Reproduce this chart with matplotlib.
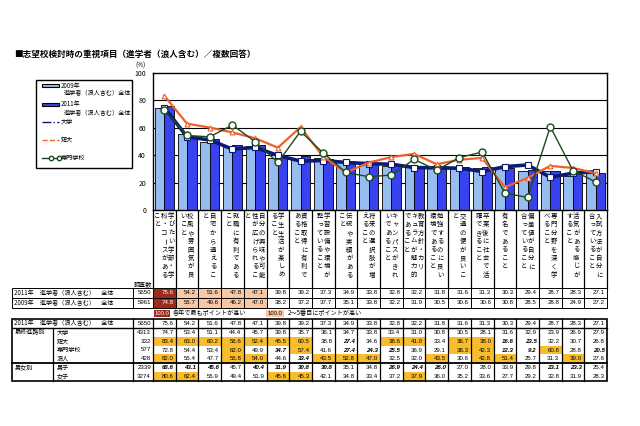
import matplotlib
matplotlib.use('Agg')
import matplotlib.pyplot as plt
from matplotlib.patches import Rectangle
from matplotlib.lines import Line2D
from matplotlib.transforms import blended_transform_factory
import numpy as np

plt.rcParams['font.family'] = ['Noto Sans CJK JP', 'DejaVu Sans']

# ---------------- data ----------------
title = "■志望校検討時の重視項目（進学者（浪人含む）／複数回答）"
categories = [
    "学びたい学部・学科・コースがあること",
    "校風や雰囲気が良いこと",
    "自宅から通えること",
    "就職に有利であること",
    "自分の興味や可能性が広げられること",
    "学生生活が楽しめること",
    "資格取得に有利であること",
    "学習設備や環境が整っていること",
    "伝統や実績があること",
    "将来の選択肢が増えること",
    "キャンパスがきれいであること",
    "教育方針・カリキュラムが魅力的であること",
    "勉強するのに良い環境であること",
    "交通の便が良いこと",
    "卒業後に社会で活躍できること",
    "有名であること",
    "偏差値が自分に合っていること",
    "専門分野を深く学べること",
    "活気がある感じがすること",
    "入試方法が自分に合っていること",
]
total_2011 = [75.6, 54.2, 51.6, 47.8, 47.1, 39.8, 39.2, 37.3, 34.9, 33.8,
              32.8, 32.2, 31.8, 31.6, 31.3, 30.3, 29.4, 28.7, 28.3, 27.1]
total_2009 = [74.8, 55.7, 49.6, 46.2, 47.0, 38.2, 37.2, 37.7, 35.1, 33.8,
              32.2, 31.9, 30.5, 30.6, 30.6, 30.8, 28.5, 28.8, 24.9, 27.2]
univ = [74.7, 53.4, 51.1, 44.4, 45.7, 39.8, 35.7, 36.1, 34.7, 33.8,
        33.4, 31.0, 30.8, 30.5, 28.1, 31.6, 32.9, 23.9, 26.9, 27.9]
junior = [83.4, 63.0, 60.2, 56.6, 52.4, 45.5, 60.5, 38.8, 27.4, 34.6,
          38.6, 41.0, 33.4, 36.7, 38.0, 16.6, 23.5, 32.2, 30.7, 26.8]
vocational = [72.8, 54.4, 53.4, 62.0, 49.9, 34.7, 57.4, 41.6, 27.4, 24.3,
              25.5, 36.9, 29.1, 38.3, 42.3, 12.3, 9.2, 60.8, 28.8, 20.5]
ronin = [82.0, 55.4, 47.7, 55.8, 54.0, 44.6, 33.4, 43.5, 52.8, 47.0,
         32.5, 32.0, 43.5, 30.6, 42.8, 51.4, 25.7, 31.3, 39.0, 27.6]
male = [68.6, 43.1, 45.6, 45.7, 40.4, 31.9, 30.8, 30.8, 35.1, 34.8,
        26.9, 24.4, 26.0, 27.0, 28.0, 33.9, 29.8, 23.1, 23.3, 25.4]
female = [80.6, 62.4, 55.9, 49.4, 51.9, 45.6, 45.3, 42.1, 34.8, 33.4,
          37.2, 37.9, 36.0, 35.2, 33.6, 27.7, 29.2, 32.8, 31.9, 28.3]
n_2011, n_2009 = 5650, 5961
group_labels = ["大学", "短大", "専門学校", "浪人"]
group_n = [4313, 332, 577, 428]
sex_labels = ["男子", "女子"]
sex_n = [2339, 3274]

# ---------------- styles ----------------
C_LIGHT = '#95bdf0'
C_DARK = '#3842f0'
C_UNIV = '#0c1a74'
C_JC = '#f0602a'
C_VOC = '#1d4a1d'
C_TOP1 = '#9e2a1c'
C_TOP5 = '#f8c8a6'
C_GOLD = '#f9bd2c'
NUMFONT = ['Liberation Sans', 'DejaVu Sans']

W, H = 640, 426
fig = plt.figure(figsize=(W / 100, H / 100), dpi=100)
ax = fig.add_axes([153 / W, 1 - 210 / H, 454 / W, 137 / H])
ov = fig.add_axes([0, 0, 1, 1], zorder=3)
ov.set_autoscale_on(False)
ov.set_xlim(0, W)
ov.set_ylim(H, 0)
ov.axis('off')
ov.patch.set_visible(False)

n = len(categories)
x = np.arange(n)

# ---------------- chart ----------------
bw = 0.42
ax.bar(x - bw / 2, total_2009, bw, color=C_LIGHT, edgecolor='black', linewidth=0.6, zorder=2)
ax.bar(x + bw / 2, total_2011, bw, color=C_DARK, edgecolor='black', linewidth=0.6, zorder=2)
for g in (20, 40, 60, 80):
    ax.axhline(g, color='black', lw=0.8, zorder=1)
ax.plot(x, univ, color=C_UNIV, lw=2.6, marker='s', ms=4, mfc='white', mec=C_UNIV, mew=0.8, zorder=4)
ax.plot(x, junior, color=C_JC, lw=1.6, marker='^', ms=3.5, mfc='white', mec=C_JC, mew=0.8, zorder=5)
ax.plot(x, vocational, color=C_VOC, lw=1.0, marker='o', ms=5, mfc='white', mec=C_VOC, mew=1.0, zorder=6)
ax.set_xlim(-0.5, n - 0.5)
ax.set_ylim(0, 100)
ax.set_yticks(range(0, 101, 20))
ax.set_xticks([])
ax.tick_params(axis='y', length=0, labelsize=5, pad=5)
for s in ax.spines.values():
    s.set_linewidth(1.0)

trans = blended_transform_factory(ax.transData, ov.transData)

# title, unit
ov.text(14, 54, title, fontsize=6.2, fontweight='bold', va='center', ha='left')
ov.text(141, 66, "(%)", fontsize=4.5, ha='center', va='center')

# ---------------- legend ----------------
ov.add_patch(Rectangle((36, 80), 96, 88, fill=False, ec='black', lw=1.0))
ov.add_patch(Rectangle((42, 83.5), 17, 3.5, fc=C_LIGHT, ec='black', lw=0.8))
ov.text(61, 85.5, "2009年", fontsize=4.4, va='center')
ov.text(64, 93.5, "進学者（浪人含む）全体", fontsize=4.4, va='center')
ov.add_patch(Rectangle((42, 102.5), 17, 3.5, fc=C_DARK, ec='black', lw=0.8))
ov.text(61, 104.5, "2011年", fontsize=4.4, va='center')
ov.text(64, 113, "進学者（浪人含む）全体", fontsize=4.4, va='center')
ov.add_line(Line2D([42, 59], [122, 122], color=C_UNIV, lw=1.0, ls='-.'))
ov.text(61, 122, "大学", fontsize=4.4, va='center')
ov.add_line(Line2D([42, 59], [140, 140], color=C_JC, lw=1.0, ls='--'))
ov.text(61, 140, "短大", fontsize=4.4, va='center')
ov.add_line(Line2D([42, 59], [158, 158], color=C_VOC, lw=1.0, marker='o', ms=3.2,
                   mfc='white', mec=C_VOC, markevery=[1], ))
ov.add_line(Line2D([50.5], [158], color=C_VOC, marker='o', ms=3.2, mfc='white', mec=C_VOC, lw=0))
ov.text(61, 158, "専門学校", fontsize=4.4, va='center')

# ---------------- vertical category labels ----------------
small = set('ゃゅょっャュョッァィゥェォぁぃぅぇぉー、。')


def split_cols(s, m=8):
    cols = []
    while s:
        k = min(m, len(s))
        while k < len(s) and s[k] in small and k > 1:
            k -= 1
        cols.append(s[:k])
        s = s[k:]
    return cols


colw = 6.8 / 22.7
for i, lab in enumerate(categories):
    cols = split_cols(lab)
    nc = len(cols)
    for j, col in enumerate(cols):
        xo = i + ((nc - 1) / 2 - j) * colw
        for k, ch in enumerate(col):
            rot = -90 if ch == 'ー' else 0
            ov.text(xo, 216 + k * 8.4, ch, fontsize=4.6, ha='center', va='center',
                    rotation=rot, transform=trans)
for b in np.arange(n + 1) - 0.5:
    ov.add_line(Line2D([b, b], [210, 288], color='black', lw=0.9, transform=trans))

# ---------------- top table ----------------
ov.text(143, 284, "調査数", fontsize=4.4, ha='center', va='center')


def rank_colors(vals):
    order = np.argsort(vals)[::-1]
    cols = [None] * len(vals)
    cols[order[0]] = C_TOP1
    for r in order[1:5]:
        cols[r] = C_TOP5
    return cols


top_rows = [("2011年　進学者（浪人含む）　全体", n_2011, total_2011, 288, 298),
            ("2009年　進学者（浪人含む）　全体", n_2009, total_2009, 298, 308)]
for lab, nn, vals, y0, y1 in top_rows:
    yc = (y0 + y1) / 2
    ov.add_patch(Rectangle((12, y0), 121, y1 - y0, fill=False, ec='black', lw=0.7))
    ov.add_patch(Rectangle((133, y0), 20, y1 - y0, fill=False, ec='black', lw=0.7))
    ov.text(14, yc, lab, fontsize=4.4, va='center')
    ov.text(151, yc, f"{nn}", fontsize=4.4, va='center', ha='right', family=NUMFONT)
    rc = rank_colors(vals)
    for i, v in enumerate(vals):
        ov.add_patch(Rectangle((i - 0.5, y0), 1, y1 - y0, fc=rc[i] if rc[i] else 'white',
                               ec='black', lw=0.7, transform=trans))
        ov.text(i + 0.4, yc, f"{v:.1f}", fontsize=4.4, va='center', ha='right',
                color='white' if rc[i] == C_TOP1 else 'black', family=NUMFONT, transform=trans)

# key row
ov.add_patch(Rectangle((154, 309.5), 16, 7.5, fc=C_TOP1, ec='none'))
ov.text(162, 313.2, "100.0", fontsize=4.2, color='white', ha='center', va='center', family=NUMFONT)
ov.text(173, 313.2, "各年で最もポイントが高い", fontsize=4.4, va='center')
ov.add_patch(Rectangle((266, 309.5), 18, 7.5, fc=C_TOP5, ec='none'))
ov.text(275, 313.2, "100.0", fontsize=4.2, ha='center', va='center', family=NUMFONT)
ov.text(288, 313.2, "2～5番目にポイントが高い", fontsize=4.4, va='center')

# ---------------- lower table ----------------
y_top, y_r0 = 319, 328
grp_edges = [328, 336.75, 345.5, 354.25, 363]
sex_edges = [363, 372, 381]


def draw_row(vals, nn, y0, y1, base=None):
    yc = (y0 + y1) / 2
    ov.text(151, yc, f"{nn}", fontsize=4.4, va='center', ha='right', family=NUMFONT)
    for i, v in enumerate(vals):
        style, weight, fc = 'normal', 'normal', None
        if base is not None:
            if v - base[i] >= 5:
                fc = C_GOLD
            elif base[i] - v >= 5:
                style, weight = 'italic', 'bold'
        if fc:
            ov.add_patch(Rectangle((i - 0.5, y0), 1, y1 - y0, fc=fc, ec='none', transform=trans))
        ov.text(i + 0.4, yc + 0.2, f"{v:.1f}", fontsize=4.4, va='center', ha='right',
                style=style, weight=weight, family=NUMFONT, transform=trans)


ov.text(14, (y_top + y_r0) / 2, "2011年　進学者（浪人含む）　全体", fontsize=4.4, va='center')
draw_row(total_2011, n_2011, y_top, y_r0)
for k, (lab, nn, vals) in enumerate(zip(group_labels, group_n, [univ, junior, vocational, ronin])):
    y0, y1 = grp_edges[k], grp_edges[k + 1]
    ov.text(57, (y0 + y1) / 2, lab, fontsize=4.4, va='center')
    draw_row(vals, nn, y0, y1, total_2011)
ov.text(15, 332.5, "最終進路別", fontsize=4.4, va='center')
for k, (lab, nn, vals) in enumerate(zip(sex_labels, sex_n, [male, female])):
    y0, y1 = sex_edges[k], sex_edges[k + 1]
    ov.text(57, (y0 + y1) / 2, lab, fontsize=4.4, va='center')
    draw_row(vals, nn, y0, y1, total_2011)
ov.text(15, 367.5, "男女別", fontsize=4.4, va='center')

# grid lines of lower table
ov.add_patch(Rectangle((12, y_top), 595, 381 - y_top, fill=False, ec='black', lw=1.2))
for yy, lw in [(y_r0, 1.0), (363, 1.3)]:
    ov.add_line(Line2D([12, 607], [yy, yy], color='black', lw=lw))
ov.add_line(Line2D([53, 53], [y_r0, 381], color='black', lw=0.9))
for xx in (133, 153):
    ov.add_line(Line2D([xx, xx], [y_top, 381], color='black', lw=0.9))
for b in np.arange(1, n) - 0.5:
    ov.add_line(Line2D([b, b], [y_top, 381], color='black', lw=0.9, transform=trans))

fig.savefig('out.png', dpi=100, facecolor='white')
